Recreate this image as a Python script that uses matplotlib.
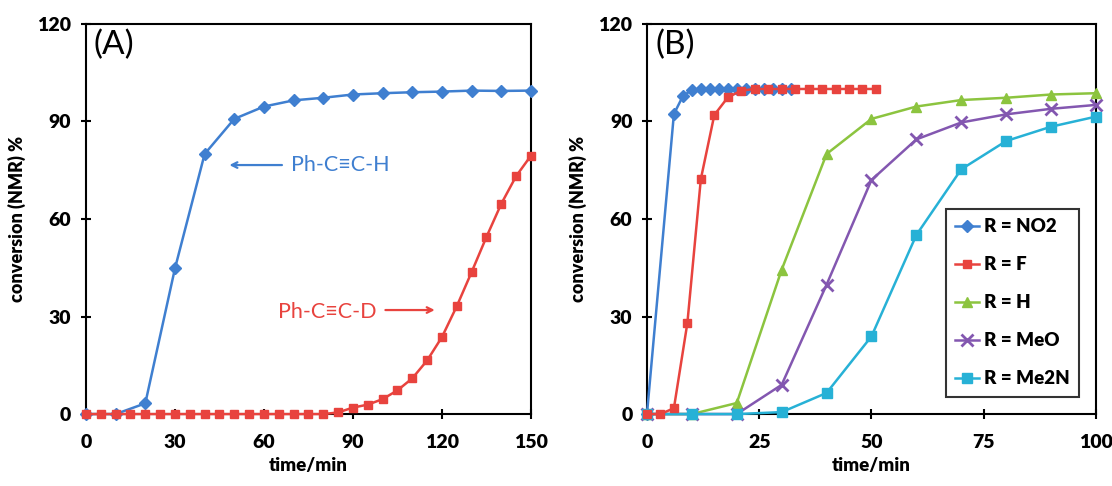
import matplotlib.pyplot as plt

plt.rcParams['font.family'] = ['Lato', 'DejaVu Sans']

# Panel A data
time_h = [0, 10, 20, 30, 40, 50, 60, 70, 80, 90, 100, 110, 120, 130, 140, 150]
conv_h = [0, 0, 3.3, 44.8, 80, 90.8, 94.6, 96.5, 97.3, 98.3, 98.7, 99, 99.2, 99.5, 99.4, 99.5]

time_d = [0, 5, 10, 15, 20, 25, 30, 35, 40, 45, 50, 55, 60, 65, 70, 75, 80, 85, 90, 95,
          100, 105, 110, 115, 120, 125, 130, 135, 140, 145, 150]
conv_d = [0, 0, 0, 0, 0, 0, 0, 0, 0, 0, 0, 0, 0, 0, 0, 0, 0, 0.5, 2.0, 2.9,
          4.6, 7.3, 11, 16.5, 23.7, 33.2, 43.7, 54.5, 64.7, 73.2, 79.5]

# Panel B data
time_no2 = [0, 6, 8, 10, 12, 14, 16, 18, 20, 22, 24, 26, 28, 30, 32]
conv_no2 = [0, 92.3, 97.8, 99.7, 100, 100, 100, 100, 100, 100, 100, 100, 100, 100, 100]

time_f = [0, 3, 6, 9, 12, 15, 18, 21, 24, 27, 30, 33, 36, 39, 42, 45, 48, 51]
conv_f = [0, 0, 1.8, 28, 72.3, 92, 97.4, 99.5, 100, 100, 100, 100, 100, 100, 100, 100, 100, 100]

time_b = [0, 10, 20, 30, 40, 50, 60, 70, 80, 90, 100]
conv_hh = [0, 0, 3.4, 44.4, 80, 90.8, 94.6, 96.6, 97.3, 98.3, 98.7]
conv_meo = [0, 0, 0, 9, 39.8, 72, 84.5, 89.7, 92.2, 93.9, 95.1]
conv_me2n = [0, 0, 0, 0.6, 6.5, 23.9, 55.1, 75.3, 84, 88.4, 91.5]

labels_b = ['R = NO2', 'R = F', 'R = H', 'R = MeO', 'R = Me2N']

blue = '#3f7fd0'
red = '#e8433e'
green = '#8cc43f'
purple = '#8357b0'
cyan = '#27b1d6'

fig = plt.figure(figsize=(11.12, 4.86), dpi=100)
ax1 = fig.add_axes([0.0773, 0.148, 0.4002, 0.8027])
ax2 = fig.add_axes([0.5818, 0.148, 0.4038, 0.8027])

lw = 1.8
ax1.plot(time_h, conv_h, color=blue, lw=lw, marker='D', ms=6, zorder=3, clip_on=False)
ax1.plot(time_d, conv_d, color=red, lw=lw, marker='s', ms=6, zorder=4, clip_on=False)

ax2.plot(time_no2, conv_no2, color=blue, lw=lw, marker='D', ms=6, label=labels_b[0], zorder=3, clip_on=False)
ax2.plot(time_f, conv_f, color=red, lw=lw, marker='s', ms=6, label=labels_b[1], zorder=4, clip_on=False)
ax2.plot(time_b, conv_hh, color=green, lw=lw, marker='^', ms=7, label=labels_b[2], zorder=3, clip_on=False)
ax2.plot(time_b, conv_meo, color=purple, lw=lw, marker='x', ms=8, mew=2, label=labels_b[3], zorder=3, clip_on=False)
ax2.plot(time_b, conv_me2n, color=cyan, lw=lw, marker='s', ms=7, label=labels_b[4], zorder=3, clip_on=False)

for ax, xmax, xt, tag in [(ax1, 150, [0, 30, 60, 90, 120, 150], '(A)'),
                          (ax2, 100, [0, 25, 50, 75, 100], '(B)')]:
    ax.set_xlim(0, xmax)
    ax.set_ylim(0, 120)
    ax.set_xticks(xt)
    ax.set_yticks([0, 30, 60, 90, 120])
    ax.tick_params(axis='both', direction='inout', length=7, width=1.5, labelsize=14)
    ax.tick_params(axis='x', pad=11)
    ax.tick_params(axis='y', pad=7)
    for lab in ax.get_xticklabels() + ax.get_yticklabels():
        lab.set_fontweight('heavy')
    for s in ax.spines.values():
        s.set_linewidth(1.5)
    ax.set_xlabel('time/min', fontsize=13.5, fontweight='heavy', labelpad=4)
    ax.set_ylabel('conversion (NMR) %', fontsize=13, fontweight='heavy', labelpad=8)
    ax.text(0.018, 0.985, tag, transform=ax.transAxes, fontsize=24, va='top', ha='left')

ax1.annotate('', xy=(47.4, 76.6), xytext=(67, 76.6),
             arrowprops=dict(arrowstyle='->', color=blue, lw=1.6))
ax1.text(69, 76.6, 'Ph-C≡C-H', color=blue, fontsize=15.5, va='center', ha='left')
ax1.annotate('', xy=(118.5, 32), xytext=(100, 32),
             arrowprops=dict(arrowstyle='->', color=red, lw=1.6))
ax1.text(98, 31.5, 'Ph-C≡C-D', color=red, fontsize=15.5, va='center', ha='right')

leg = ax2.legend(loc='lower right', bbox_to_anchor=(0.975, 0.03), frameon=True, fancybox=False,
                 edgecolor='black', handlelength=1.3, labelspacing=1.12,
                 borderpad=0.5, handletextpad=0.25, borderaxespad=0.3,
                 prop={'weight': 'heavy', 'size': 13.5})
leg.get_frame().set_linewidth(1.5)

fig.savefig('out.png', dpi=100)
